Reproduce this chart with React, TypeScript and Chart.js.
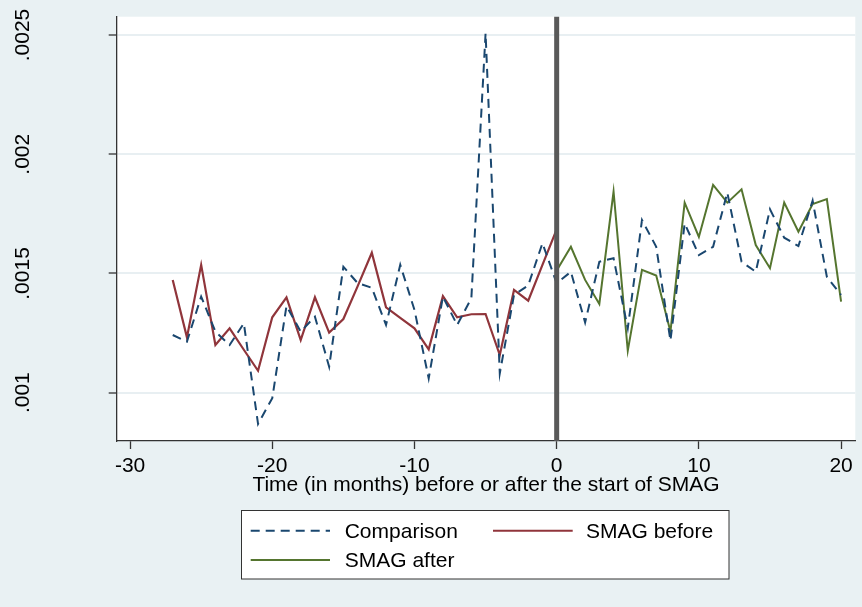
import React, { useEffect, useRef } from "react";
import { Chart, registerables } from "chart.js";

Chart.register(...registerables);

// ---- Data ----
const comparisonMonths = [
  -27, -26, -25, -24, -23, -22, -21, -20, -19, -18, -17, -16, -15, -14, -13, -12,
  -11, -10, -9, -8, -7, -6, -5, -4, -3, -2, -1, 0, 1, 2, 3, 4, 5, 6, 7, 8, 9, 10,
  11, 12, 13, 14, 15, 16, 17, 18, 19, 20,
];
const comparisonValues = [
  0.001242, 0.001214, 0.001403, 0.001256, 0.0012, 0.001291, 0.000869, 0.000977,
  0.001364, 0.001256, 0.001319, 0.001109, 0.001528, 0.00146, 0.00144, 0.001284,
  0.001536, 0.001347, 0.00106, 0.001403, 0.001284, 0.001396, 0.002507, 0.001081,
  0.00141, 0.00145, 0.001627, 0.001459, 0.001507, 0.001294, 0.001549, 0.001564,
  0.00127, 0.001724, 0.001612, 0.001218, 0.00171, 0.001577, 0.001612, 0.001839,
  0.001549, 0.001507, 0.001769, 0.00165, 0.001615, 0.001805, 0.001486, 0.00141,
];

const beforeMonths = [
  -27, -26, -25, -24, -23, -22, -21, -20, -19, -18, -17, -16, -15, -14, -13, -12,
  -11, -10, -9, -8, -7, -6, -5, -4, -3, -2, -1, 0,
];
const beforeValues = [
  0.001473, 0.001232, 0.001536, 0.0012, 0.00127, 0.00118, 0.001092, 0.001316,
  0.0014, 0.001221, 0.0014, 0.001252, 0.001309, 0.001446, 0.001587, 0.001358,
  0.001314, 0.00127, 0.001182, 0.001405, 0.001316, 0.001329, 0.00133, 0.001158,
  0.001431, 0.001386, 0.001536, 0.001685,
];

const afterMonths = [0, 1, 2, 3, 4, 5, 6, 7, 8, 9, 10, 11, 12, 13, 14, 15, 16, 17, 18, 19, 20];
const afterValues = [
  0.001512, 0.001612, 0.001473, 0.001372, 0.001843, 0.001176, 0.001515, 0.001491,
  0.001256, 0.001797, 0.001653, 0.001871, 0.001797, 0.001853, 0.001619, 0.001522,
  0.001797, 0.001675, 0.001791, 0.001812, 0.001382,
];

const xTicks = [-30, -20, -10, 0, 10, 20];
const yTicks = [0.001, 0.0015, 0.002, 0.0025];
const yTickLabels = [".001", ".0015", ".002", ".0025"];
const xTitle = "Time (in months) before or after the start of SMAG";
const seriesLabels = ["Comparison", "SMAG before", "SMAG after"];
const eventMonth = 0;

// ---- Styles ----
const FONT = "'Liberation Sans', Arial, Helvetica, sans-serif";
const FONT_SIZE = 21;
const BG = "#e9f1f3";
const NAVY = "#1a476f";
const MAROON = "#90353b";
const GREEN = "#55752f";
const AXIS = "#333333";

const W = 862;
const H = 607;

function toPoints(xs: number[], ys: number[]) {
  return xs.map((x, i) => ({ x, y: ys[i] }));
}

export default function App() {
  const ref = useRef<HTMLCanvasElement | null>(null);

  useEffect(() => {
    if (!ref.current) return;

    const plotBg = {
      id: "plotBg",
      beforeDraw(chart: any) {
        const { ctx, chartArea } = chart;
        ctx.save();
        ctx.fillStyle = "#ffffff";
        ctx.fillRect(chartArea.left, chartArea.top, chartArea.right - chartArea.left, chartArea.bottom - chartArea.top);
        ctx.restore();
      },
    };

    const eventLine = {
      id: "eventLine",
      afterDatasetsDraw(chart: any) {
        const { ctx, chartArea } = chart;
        const x = chart.scales.x.getPixelForValue(eventMonth);
        ctx.save();
        ctx.strokeStyle = "#595959";
        ctx.lineWidth = 5;
        ctx.beginPath();
        ctx.moveTo(x, chartArea.top);
        ctx.lineTo(x, chartArea.bottom);
        ctx.stroke();
        ctx.restore();
      },
    };

    const yLabels = {
      id: "yLabels",
      afterDraw(chart: any) {
        const { ctx } = chart;
        const ys = chart.scales.y;
        ctx.save();
        ctx.fillStyle = "#000";
        ctx.font = `${FONT_SIZE}px ${FONT}`;
        ctx.textAlign = "center";
        ctx.textBaseline = "alphabetic";
        yTicks.forEach((v, i) => {
          const py = ys.getPixelForValue(v);
          ctx.save();
          ctx.translate(28.5, py);
          ctx.rotate(-Math.PI / 2);
          ctx.fillText(yTickLabels[i], 0, 0);
          ctx.restore();
        });
        ctx.restore();
      },
    };

    const customLegend = {
      id: "customLegend",
      afterDraw(chart: any) {
        const { ctx } = chart;
        const ds = chart.data.datasets;
        ctx.save();
        // box
        ctx.fillStyle = "#ffffff";
        ctx.fillRect(241.5, 510, 487.5, 69);
        ctx.strokeStyle = AXIS;
        ctx.lineWidth = 1;
        ctx.strokeRect(241.5, 510.5, 487.5, 68.5);
        const items = [
          { i: 0, x1: 250.7, x2: 330, tx: 344.7, y: 530.7 },
          { i: 1, x1: 493, x2: 572.7, tx: 586, y: 530.7 },
          { i: 2, x1: 250.7, x2: 330, tx: 344.7, y: 560 },
        ];
        ctx.font = `${FONT_SIZE}px ${FONT}`;
        ctx.textAlign = "left";
        ctx.textBaseline = "alphabetic";
        items.forEach((it) => {
          const d = ds[it.i];
          ctx.save();
          ctx.strokeStyle = d.borderColor;
          ctx.lineWidth = 2;
          ctx.setLineDash(d.borderDash || []);
          ctx.beginPath();
          ctx.moveTo(it.x1, it.y);
          ctx.lineTo(it.x2, it.y);
          ctx.stroke();
          ctx.restore();
          ctx.fillStyle = "#000";
          ctx.fillText(d.label, it.tx, it.y + 7.3);
        });
        ctx.restore();
      },
    };

    const chart = new Chart(ref.current, {
      type: "line",
      data: {
        datasets: [
          {
            label: seriesLabels[0],
            data: toPoints(comparisonMonths, comparisonValues),
            borderColor: NAVY,
            borderWidth: 2,
            borderDash: [9, 6],
            pointRadius: 0,
            fill: false,
            tension: 0,
            borderJoinStyle: "miter",
          },
          {
            label: seriesLabels[1],
            data: toPoints(beforeMonths, beforeValues),
            borderColor: MAROON,
            borderWidth: 2.2,
            pointRadius: 0,
            fill: false,
            tension: 0,
            borderJoinStyle: "miter",
          },
          {
            label: seriesLabels[2],
            data: toPoints(afterMonths, afterValues),
            borderColor: GREEN,
            borderWidth: 2,
            pointRadius: 0,
            fill: false,
            tension: 0,
            borderJoinStyle: "miter",
          },
        ] as any,
      },
      options: {
        responsive: false,
        animation: false,
        devicePixelRatio: 1,
        layout: { padding: { left: 0, top: 16.7, right: 6.7, bottom: 0 } },
        plugins: {
          legend: { display: false },
          tooltip: { enabled: false },
        },
        scales: {
          x: {
            type: "linear",
            min: -30.94,
            max: 21.0,
            afterBuildTicks: (scale: any) => {
              scale.ticks = xTicks.map((v) => ({ value: v }));
            },
            afterFit: (scale: any) => {
              scale.height = 166;
            },
            grid: {
              display: true,
              drawOnChartArea: false,
              drawTicks: true,
              tickLength: 8,
              tickColor: AXIS,
              tickWidth: 1.3,
            },
            border: { display: true, color: AXIS, width: 1.3 },
            ticks: {
              autoSkip: false,
              maxRotation: 0,
              minRotation: 0,
              padding: 5,
              color: "#000",
              font: { family: FONT, size: FONT_SIZE },
              callback: (v: any) => String(v),
            },
            title: {
              display: true,
              text: xTitle,
              color: "#000",
              font: { family: FONT, size: FONT_SIZE },
              padding: { top: 0, bottom: 109.4 },
            },
          },
          y: {
            type: "linear",
            min: 0.0007974,
            max: 0.0025767,
            afterBuildTicks: (scale: any) => {
              scale.ticks = yTicks.map((v) => ({ value: v }));
            },
            afterFit: (scale: any) => {
              scale.width = 116.7;
            },
            grid: {
              display: true,
              drawOnChartArea: true,
              drawTicks: true,
              tickLength: 8,
              color: "#e8eff2",
              lineWidth: 2,
              tickColor: AXIS,
              tickWidth: 1.3,
            },
            border: { display: true, color: AXIS, width: 1.3 },
            ticks: { display: false },
          },
        },
      } as any,
      plugins: [plotBg, eventLine, yLabels, customLegend],
    });

    return () => {
      chart.destroy();
    };
  }, []);

  return (
    <div
      style={{
        position: "fixed",
        left: 0,
        top: 0,
        width: W,
        height: H,
        background: BG,
        overflow: "hidden",
      }}
    >
      <canvas ref={ref} width={W} height={H} style={{ display: "block", width: W, height: H }} />
    </div>
  );
}
